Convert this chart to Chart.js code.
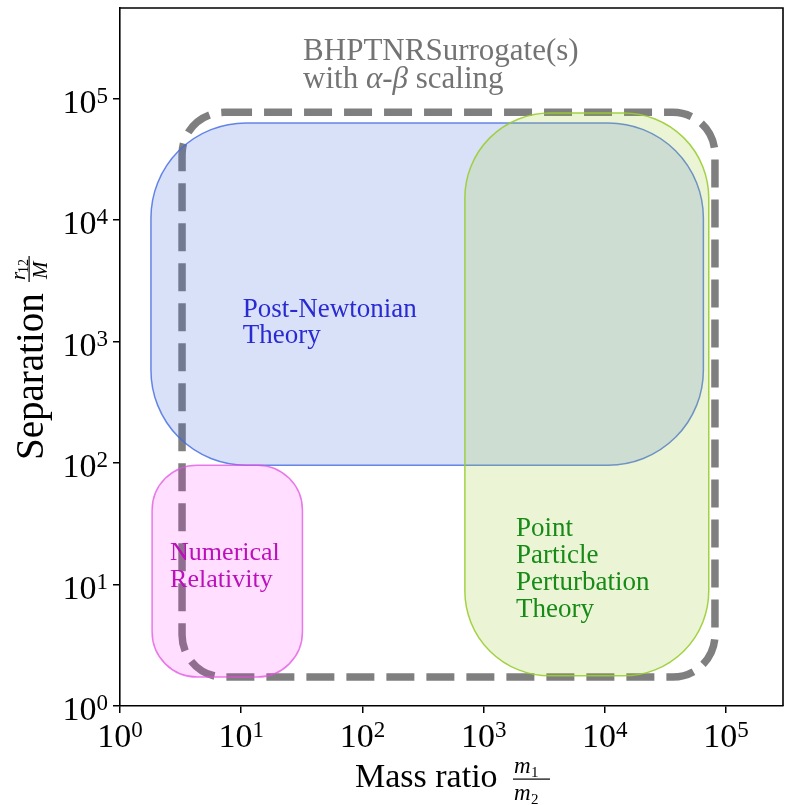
<!DOCTYPE html>
<html>
<head>
<meta charset="utf-8">
<script src="https://cdn.jsdelivr.net/npm/chart.js@4.4.0/dist/chart.umd.min.js"></script>
<style>
  html, body { margin: 0; padding: 0; background: #fff; }
</style>
</head>
<body>
<canvas id="chart" width="785" height="805"></canvas>
<script>
// axis ticks (powers of ten) and axis limits
const xTicks = [1, 10, 100, 1000, 10000, 100000];
const yTicks = [1, 10, 100, 1000, 10000, 100000];
const xLimits = [1, 2.95e5];
const yLimits = [1, 5.56e5];

// regions of validity: [xmin, xmax, ymin, ymax] in mass ratio / separation
const surrogateBox = [3.25, 8.1e4, 1.73, 7.7e4];
const pnBox = [1.8, 6.5e4, 96, 6.3e4];
const nrBox = [1.84, 32, 1.73, 96];
const pptBox = [700, 7.2e4, 1.77, 7.6e4];

const SERIF = '"Liberation Serif", "DejaVu Serif", serif';

// styling for each box
const boxes = [
  { box: surrogateBox, radius: 42, fill: null, stroke: '#7f7f7f', width: 7.5, dash: [28, 12] },
  { box: pnBox, radius: 95, fill: 'rgba(65,105,225,0.2)', stroke: 'rgba(65,105,225,0.8)', width: 1.5 },
  { box: nrBox, radius: 45, fill: 'rgba(255,0,255,0.13)', stroke: 'rgba(225,80,225,0.75)', width: 1.5 },
  { box: pptBox, radius: 85, fill: 'rgba(154,205,50,0.2)', stroke: 'rgba(154,205,50,0.9)', width: 1.5 }
];

// text annotations, anchored at the first baseline (data coordinates)
const notes = [
  { x: 32.4, y: 2.07e5, color: '#737373', size: 31, lh: 28,
    lines: [[['BHPTNRSurrogate(s)', '']], [['with ', ''], ['α', 'italic '], ['-', ''], ['β', 'italic '], [' scaling', '']]] },
  { x: 10.3, y: 1585, color: '#2a2ad2', size: 27, lh: 26,
    lines: [[['Post-Newtonian', '']], [['Theory', '']]] },
  { x: 2.59, y: 15.9, color: '#bb10bb', size: 26, lh: 27,
    lines: [[['Numerical', '']], [['Relativity', '']]] },
  { x: 1850, y: 25, color: '#178a17', size: 27, lh: 27,
    lines: [[['Point', '']], [['Particle', '']], [['Perturbation', '']], [['Theory', '']]] }
];

function roundBox(ctx, x0, y0, x1, y1, r) {
  const l = Math.min(x0, x1), rgt = Math.max(x0, x1);
  const t = Math.min(y0, y1), b = Math.max(y0, y1);
  r = Math.min(r, (rgt - l) / 2, (b - t) / 2);
  ctx.beginPath();
  ctx.moveTo(l + r, t);
  ctx.lineTo(rgt - r, t);
  ctx.arcTo(rgt, t, rgt, t + r, r);
  ctx.lineTo(rgt, b - r);
  ctx.arcTo(rgt, b, rgt - r, b, r);
  ctx.lineTo(l + r, b);
  ctx.arcTo(l, b, l, b - r, r);
  ctx.lineTo(l, t + r);
  ctx.arcTo(l, t, l + r, t, r);
  ctx.closePath();
}

function drawPow(ctx, exp, x, y, align) {
  ctx.font = '34px ' + SERIF;
  const wb = ctx.measureText('10').width;
  ctx.font = '23px ' + SERIF;
  const we = ctx.measureText(exp).width;
  const total = wb + we;
  const x0 = align === 'center' ? x - total / 2 : x - total;
  ctx.textAlign = 'left';
  ctx.textBaseline = 'alphabetic';
  ctx.font = '34px ' + SERIF;
  ctx.fillText('10', x0, y);
  ctx.font = '23px ' + SERIF;
  ctx.fillText(exp, x0 + wb, y - 10);
}

const regionsPlugin = {
  id: 'regions',
  beforeDatasetsDraw(chart) {
    const { ctx, scales: { x, y } } = chart;
    boxes.forEach(b => {
      const [xa, xb, ya, yb] = b.box;
      ctx.save();
      roundBox(ctx, x.getPixelForValue(xa), y.getPixelForValue(yb),
        x.getPixelForValue(xb), y.getPixelForValue(ya), b.radius);
      if (b.fill) {
        ctx.fillStyle = b.fill;
        ctx.fill();
      }
      ctx.setLineDash(b.dash || []);
      ctx.lineWidth = b.width;
      ctx.strokeStyle = b.stroke;
      ctx.stroke();
      ctx.restore();
    });
  },
  afterDraw(chart) {
    const { ctx, chartArea: area, scales: { x, y } } = chart;
    ctx.save();
    // frame top/right
    ctx.strokeStyle = '#000';
    ctx.lineWidth = 1.6;
    ctx.beginPath();
    ctx.moveTo(area.left, area.top);
    ctx.lineTo(area.right, area.top);
    ctx.lineTo(area.right, area.bottom);
    ctx.stroke();

    // annotations
    notes.forEach(n => {
      const px = x.getPixelForValue(n.x);
      const py = y.getPixelForValue(n.y);
      ctx.fillStyle = n.color;
      ctx.textAlign = 'left';
      ctx.textBaseline = 'alphabetic';
      n.lines.forEach((segs, i) => {
        let cx = px;
        segs.forEach(([txt, style]) => {
          ctx.font = style + n.size + 'px ' + SERIF;
          ctx.fillText(txt, cx, py + i * n.lh);
          cx += ctx.measureText(txt).width;
        });
      });
    });

    // tick labels
    ctx.fillStyle = '#000';
    x.ticks.forEach(t => {
      drawPow(ctx, String(Math.round(Math.log10(t.value))), x.getPixelForValue(t.value), 747, 'center');
    });
    y.ticks.forEach(t => {
      drawPow(ctx, String(Math.round(Math.log10(t.value))), 108, y.getPixelForValue(t.value) + 14, 'right');
    });

    // x axis title: Mass ratio m1/m2
    ctx.textAlign = 'left';
    ctx.font = '34px ' + SERIF;
    ctx.fillText('Mass ratio', 355, 787);
    ctx.font = 'italic 23px ' + SERIF;
    ctx.fillText('m', 514, 773);
    ctx.fillText('m', 514, 800);
    ctx.font = '15px ' + SERIF;
    ctx.fillText('1', 531, 777);
    ctx.fillText('2', 531, 804);
    ctx.fillRect(513, 778.5, 37, 1.2);

    // y axis title: Separation r12/M
    ctx.translate(43, 460);
    ctx.rotate(-Math.PI / 2);
    ctx.font = '39px ' + SERIF;
    ctx.fillText('Separation', 0, 0);
    ctx.font = 'italic 21px ' + SERIF;
    ctx.fillText('r', 180, -18);
    ctx.font = '14px ' + SERIF;
    ctx.fillText('12', 187, -15);
    ctx.font = 'italic 21px ' + SERIF;
    ctx.fillText('M', 181, 4);
    ctx.fillRect(178, -14.5, 26, 1.2);
    ctx.restore();
  }
};

function axis(limits, ticks, fit) {
  return {
    type: 'logarithmic',
    min: limits[0],
    max: limits[1],
    bounds: 'data',
    afterBuildTicks: scale => {
      scale.ticks = ticks.map(v => ({ value: v, major: true }));
    },
    afterFit: fit,
    ticks: { display: false },
    grid: { display: true, drawOnChartArea: false, drawTicks: true, tickLength: 7, color: '#000', lineWidth: 1.5 },
    border: { display: true, color: '#000', width: 1.6 }
  };
}

new Chart(document.getElementById('chart'), {
  type: 'scatter',
  data: { datasets: [] },
  options: {
    responsive: false,
    animation: false,
    devicePixelRatio: 1,
    layout: { padding: { top: 8, right: 2, left: 0, bottom: 0 } },
    plugins: { legend: { display: false }, tooltip: { enabled: false } },
    scales: {
      x: axis(xLimits, xTicks, s => { s.height = 99; }),
      y: axis(yLimits, yTicks, s => { s.width = 120; })
    }
  },
  plugins: [regionsPlugin]
});
</script>
</body>
</html>
